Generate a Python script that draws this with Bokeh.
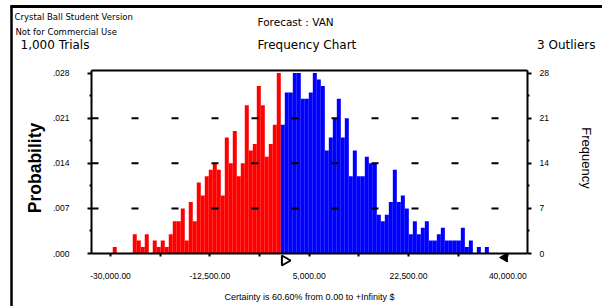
import math
from bokeh.plotting import figure
from bokeh.models import LinearAxis, FixedTicker, Label
from bokeh.embed import file_html
from bokeh.resources import INLINE

# ---------------- data ----------------
bin_width = 705                # currency units per histogram bin
red_first_bin = -42            # index of the first red bin (bin k spans k*w .. (k+1)*w)
red_counts = [1, 0, 0, 0, 0, 3, 2, 1, 3, 0, 2, 1, 2, 1, 3, 5, 5, 7, 2, 8, 5,
              11, 9, 12, 13, 14, 13, 9, 18, 14, 19, 12, 14, 23, 16, 17, 26, 23,
              15, 17, 20, 28]
blue_counts = [20, 25, 25, 28, 28, 24, 24, 25, 28, 27, 26, 16, 18, 21, 24, 18,
               21, 12, 16, 12, 12, 15, 14, 14, 6, 5, 6, 8, 13, 8, 9, 7, 3, 5, 3,
               4, 5, 2, 2, 3, 4, 2, 2, 2, 2, 4, 1, 2, 0, 1, 0, 1]

freq_ticks = [0, 7, 14, 21, 28]
freq_minor = [3.5, 10.5, 17.5, 24.5]
prob_labels = [".000", ".007", ".014", ".021", ".028"]
x_ticks = [-30000, -21250, -12500, -3750, 5000, 13750, 22500, 31250, 40000]
x_labels = ["-30,000.00", "", "-12,500.00", "", "5,000.00", "", "22,500.00", "", "40,000.00"]
grid_levels = [7, 14, 21]

title_text = "Forecast : VAN"
subtitle_text = "Frequency Chart"
trials_text = "1,000 Trials"
outliers_text = "3 Outliers"
version_text = "Crystal Ball Student Version"
commercial_text = "Not for Commercial Use"
certainty_text = "Certainty is 60.60% from 0.00 to +Infinity $"
left_label = "Probability"
right_label = "Frequency"
cert_low = 0.0
cert_high = 40000.0

# chart value window
X_LEFT, X_RIGHT = -33355, 43470
Y_TOP = 28.4

# ---------------- layout (pixels) ----------------
W, H = 602, 306
CL, CR, CT, CB = 91, 527, 70, 253     # chart box on the canvas
ux = (X_RIGHT - X_LEFT) / (CR - CL)
uy = Y_TOP / (CB - CT)

def X(px):
    return X_LEFT + (px - CL) * ux

def Y(py):
    return (CB - py) * uy

def PX(x):
    return CL + (x - X_LEFT) / ux

p = figure(width=W, height=H, x_range=(X(0), X(W)), y_range=(Y(H), Y(0)),
           output_backend="svg", toolbar_location=None, min_border=0)
p.background_fill_color = "white"
p.border_fill_color = "white"
p.outline_line_color = None
p.title.visible = False
p.xgrid.visible = False
p.ygrid.visible = False

red_x = [(red_first_bin + i + 0.5) * bin_width for i in range(len(red_counts))]
blue_x = [(i + 0.5) * bin_width for i in range(len(blue_counts))]
p.vbar(x=red_x, top=red_counts, width=bin_width, bottom=0,
       fill_color="#ff0000", line_color=None)
p.vbar(x=blue_x, top=blue_counts, width=bin_width, bottom=0,
       fill_color="#0000ff", line_color=None)

# dashed grid drawn over the bars
p.segment(x0=[X_LEFT] * len(grid_levels), x1=[X_RIGHT] * len(grid_levels),
          y0=grid_levels, y1=grid_levels, line_color="black", line_width=2,
          line_dash="7 33")
# top border of the chart box
p.segment(x0=[X_LEFT], x1=[X_RIGHT], y0=[Y_TOP], y1=[Y_TOP], line_color="black", line_width=2)

tick_font = "Liberation Sans"

def style_axis(ax, out, standoff):
    ax.axis_line_width = 2
    ax.axis_line_color = "black"
    ax.major_tick_line_width = 2
    ax.major_tick_out = out
    ax.major_tick_in = 0
    ax.minor_tick_line_width = 2
    ax.minor_tick_out = 2
    ax.minor_tick_in = 0
    ax.major_label_standoff = standoff
    ax.major_label_text_font = tick_font
    ax.major_label_text_font_size = "8.5px"
    ax.major_label_text_color = "black"

# left axis (probability)
ya = p.yaxis[0]
ya.ticker = FixedTicker(ticks=freq_ticks, minor_ticks=freq_minor)
ya.major_label_overrides = {t: l for t, l in zip(freq_ticks, prob_labels)}
ya.fixed_location = X_LEFT
ya.bounds = (0, Y_TOP)
style_axis(ya, 4, 18)

# right axis (frequency)
ra = LinearAxis(ticker=FixedTicker(ticks=freq_ticks, minor_ticks=freq_minor),
                fixed_location=X_RIGHT, bounds=(0, Y_TOP))
style_axis(ra, 4, 8)
p.add_layout(ra, "right")

# bottom axis
xa = p.xaxis[0]
xa.ticker = FixedTicker(ticks=x_ticks, minor_ticks=[])
xa.major_label_overrides = {t: l for t, l in zip(x_ticks, x_labels)}
xa.fixed_location = 0
xa.bounds = (X_LEFT, X_RIGHT)
style_axis(xa, 3, 16)

# window border lines
p.segment(x0=[X(11)], x1=[X(11)], y0=[Y(5)], y1=[Y(H + 2)], line_color="black", line_width=2.5)
p.segment(x0=[X(10)], x1=[X(W + 2)], y0=[Y(6)], y1=[Y(6)], line_color="black", line_width=3)

def lab(text, px, py, size, font="DejaVu Sans", align="left", angle=0, style="normal"):
    p.add_layout(Label(x=X(px), y=Y(py), text=text, text_font=font,
                       text_font_size=size, text_align=align, text_baseline="middle",
                       angle=angle, text_font_style=style, text_color="black"))

lab(version_text, 14, 16, "8.5px")
lab(commercial_text, 15, 31, "8.5px")
lab(title_text, 257, 21, "10.5px")
lab(trials_text, 20, 44, "12px")
lab(subtitle_text, 257, 44, "12px")
lab(outliers_text, 595, 44, "12px", align="right")
lab(left_label, 34, 167.5, "17.5px", font="Liberation Sans", align="center",
    angle=math.pi / 2, style="bold")
lab(right_label, 586, 157.5, "13px", font="Liberation Sans", align="center",
    angle=-math.pi / 2)
lab(certainty_text, 309, 296, "9px", font="Liberation Sans", align="center")

# certainty range grabbers
p.scatter(x=[X(PX(cert_low) + 4)], y=[Y(260)], marker="triangle", size=10, angle=-math.pi / 2,
          fill_color="white", line_color="black", line_width=2)
p.scatter(x=[X(PX(cert_high) - 3)], y=[Y(257)], marker="triangle", size=9, angle=math.pi / 2,
          fill_color="black", line_color="black", line_width=1)

open("out.html", "w").write(file_html(p, INLINE))
